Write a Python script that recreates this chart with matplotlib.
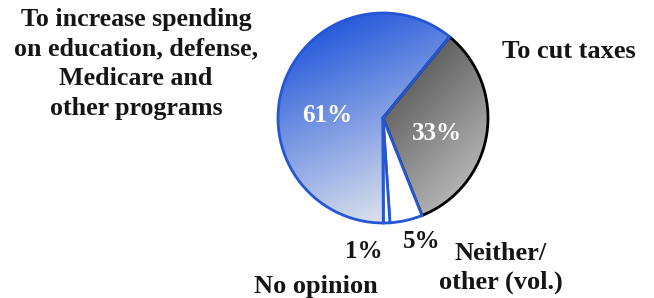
# pie chart: what to do with the budget surplus
# gradient wedges are images clipped to the pie patches

import numpy as np
import matplotlib
matplotlib.use('Agg')
import matplotlib.pyplot as plt

# data
shares = [33, 5, 1, 61]
share_labels = ['33%', '5%', '1%', '61%']
cat_labels = ['To cut taxes', 'Neither/\nother (vol.)', 'No opinion',
              'To increase spending\non education, defense,\nMedicare and\nother programs']

W, H = 654, 298
cx, cy, r = 383, H - 118, 105

plt.rcParams['font.family'] = ['Liberation Serif', 'DejaVu Serif']
plt.rcParams['font.weight'] = 'bold'

fig = plt.figure(figsize=(W / 100, H / 100), dpi=100)
ax = fig.add_axes([0, 0, 1, 1])

wedges, _ = ax.pie(shares, startangle=50.6, counterclock=False,
                   center=(cx, cy), radius=r,
                   colors=['none', 'white', 'white', 'none'],
                   wedgeprops=dict(linewidth=2.0))
wedges[0].set_edgecolor('black')
for w in wedges[1:]:
    w.set_edgecolor('#2456d6')
for w in wedges:
    w.set_zorder(3)


def gradient(wedge, c0, c1, direction):
    # linear gradient over the pie's bounding box, clipped to one wedge
    n = 300
    xs = np.linspace(cx - r, cx + r, n)
    ys = np.linspace(cy - r, cy + r, n)
    X, Y = np.meshgrid(xs, ys)
    d = np.array(direction, float)
    d /= np.hypot(*d)
    t = ((X - cx) * d[0] + (Y - cy) * d[1]) / r
    t = np.clip((t + 1) / 2, 0, 1)[..., None]
    img = np.array(c0)[None, None, :] * (1 - t) + np.array(c1)[None, None, :] * t
    im = ax.imshow(img, extent=[cx - r, cx + r, cy - r, cy + r],
                   origin='lower', zorder=2, interpolation='bilinear')
    im.set_clip_path(wedge)


gradient(wedges[3], (0.16, 0.36, 0.86), (0.90, 0.91, 0.93), (0.45, -1.0))
gradient(wedges[0], (0.12, 0.12, 0.12), (0.70, 0.70, 0.70), (0.8, -0.8))

# percentages inside / below the pie
ax.text(327, H - 115, share_labels[3], color='white', fontsize=18,
        ha='center', va='center', zorder=5)
ax.text(437, H - 134, share_labels[0], color='white', fontsize=18,
        ha='center', va='center', zorder=5)
ax.text(364, H - 251, share_labels[2], color='#151515', fontsize=18,
        ha='center', va='center')
ax.text(422, H - 242, share_labels[1], color='#151515', fontsize=18,
        ha='center', va='center')

# category labels
ax.text(136, H - 64, cat_labels[3], fontsize=18.7, ha='center', va='center',
        linespacing=1.36, color='#151515')
ax.text(569, H - 52, cat_labels[0], fontsize=19, ha='center', va='center',
        color='#151515')
ax.text(501, H - 268, cat_labels[1], fontsize=19, ha='center', va='center',
        linespacing=1.3, color='#151515')
ax.text(316, H - 287, cat_labels[2], fontsize=19, ha='center', va='center',
        color='#151515')

ax.set_xlim(0, W)
ax.set_ylim(0, H)
ax.set_aspect('equal')
ax.axis('off')

plt.savefig('out.png', dpi=100)
